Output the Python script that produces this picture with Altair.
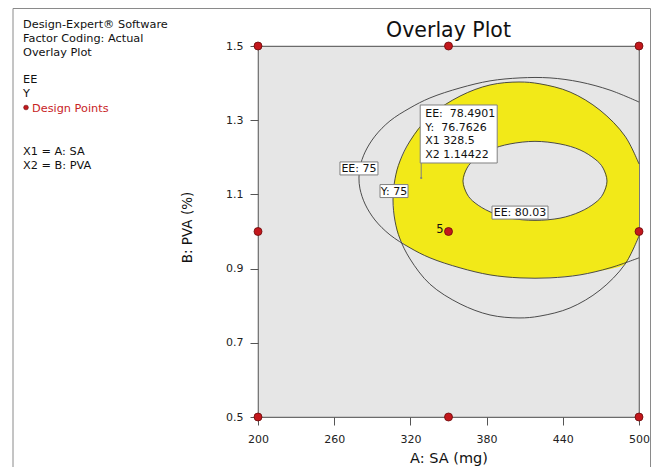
import altair as alt
import pandas as pd

F = "DejaVu Sans"

# ---------------- data ----------------
sa_ticks = [200, 260, 320, 380, 440, 500]
pva_ticks = [0.5, 0.7, 0.9, 1.1, 1.3, 1.5]

design_sa = [200, 200, 200, 350, 350, 350, 500, 500, 500]
design_pva = [0.5, 1.0, 1.5, 0.5, 1.0, 1.5, 0.5, 1.0, 1.5]
center_runs = "5"

# contour EE = 75 (open, leaves the plot at SA = 500)
ee75_sa = [500, 477.2, 453.5, 429.9, 406.3, 382.7, 359.1, 335.4, 319.7, 303.9, 292.1, 284.3, 280.3, 279.5,
           280.3, 284.3, 292.1, 303.9, 319.7, 335.4, 359.1, 382.7, 406.3, 429.9, 453.5, 477.2, 500]
ee75_pva = [1.349, 1.381, 1.403, 1.414, 1.414, 1.406, 1.387, 1.360, 1.333, 1.298, 1.257, 1.214, 1.174, 1.144,
            1.115, 1.074, 1.031, 0.991, 0.956, 0.929, 0.902, 0.883, 0.875, 0.875, 0.883, 0.902, 0.929]

# contour Y = 75 (open, leaves the plot at SA = 500)
y75_sa = [500, 489.0, 469.3, 445.7, 422.0, 405.5, 382.7, 359.1, 335.4, 319.7, 311.8, 307.9, 306.3,
          307.9, 311.8, 319.7, 335.4, 359.1, 382.7, 405.5, 422.0, 445.7, 469.3, 489.0, 500]
y75_pva = [1.182, 1.257, 1.327, 1.376, 1.398, 1.403, 1.395, 1.365, 1.311, 1.244, 1.190, 1.142, 1.085,
           1.028, 0.980, 0.926, 0.858, 0.805, 0.775, 0.767, 0.772, 0.794, 0.842, 0.912, 0.988]

# contour EE = 80.03 (closed)
ee80_sa = [361.4, 364.6, 370.9, 382.7, 398.4, 418.1, 437.8, 453.5, 465.4, 471.7, 474.8,
           471.7, 465.4, 453.5, 437.8, 418.1, 398.4, 382.7, 370.9, 364.6]
ee80_pva = [1.136, 1.171, 1.195, 1.220, 1.236, 1.243, 1.236, 1.220, 1.195, 1.171, 1.136,
            1.101, 1.077, 1.053, 1.036, 1.030, 1.036, 1.053, 1.077, 1.101]

# feasible (yellow) region: upper / lower boundary
feas_sa = [306.3, 307.9, 311.8, 313.4, 319.7, 335.4, 359.1, 382.7, 405.5, 422.0, 445.7, 469.3, 489.0, 494.5, 500]
feas_top = [1.085, 1.142, 1.190, 1.201, 1.244, 1.311, 1.365, 1.395, 1.403, 1.398, 1.376, 1.327, 1.257, 1.225, 1.182]
feas_bottom = [1.085, 1.028, 0.980, 0.972, 0.956, 0.929, 0.902, 0.883, 0.875, 0.875, 0.880, 0.894, 0.912, 0.945, 0.988]

# contour labels
label_text = ["EE: 75", "Y: 75", "EE: 80.03"]
label_sa = [279.5, 307.1, 406.3]
label_pva = [1.170, 1.109, 1.051]

# flag (probe) point
probe_sa = 328.5
probe_pva = 1.14422
probe_ee = 78.4901
probe_y = 76.7626

chart_title = "Overlay Plot"
header_lines = ["Design-Expert® Software", "Factor Coding: Actual", "Overlay Plot"]
response_lines = ["EE", "Y"]
legend_label = "Design Points"
factor_lines = ["X1 = A: SA", "X2 = B: PVA"]

# ---------------- styles ----------------
BG = "#e6e6e6"
YELLOW = "#f2e918"
LINE = "#3a3a3a"
RED = "#c3171c"

x_axis = alt.Axis(title="A: SA (mg)", values=sa_ticks, format="d", grid=False, domain=False,
                  tickSize=8, tickColor="#555555", tickWidth=1, labelFont=F, labelFontSize=11,
                  labelColor="#222222", labelPadding=8, labelFlush=False, labelOverlap=False,
                  titleFont=F, titleFontSize=14.5,
                  titleFontWeight="normal", titleColor="#111111", titleY=45.5, titleBaseline="alphabetic")
y_axis = alt.Axis(title="B: PVA (%)", values=pva_ticks, format=".1f", grid=False, domain=False,
                  tickSize=8, tickColor="#555555", tickWidth=1, labelFont=F, labelFontSize=11,
                  labelColor="#222222", labelPadding=7, labelFlush=False, labelOverlap=False,
                  titleFont=F, titleFontSize=13.5,
                  titleFontWeight="normal", titleColor="#111111", titleX=-71, titleY=181,
                  titleAngle=270, titleAlign="center", titleBaseline="middle")
xs = alt.Scale(domain=[200, 500], nice=False, zero=False)
ys = alt.Scale(domain=[0.5, 1.5], nice=False, zero=False)


def X(f):
    return alt.X(f, type="quantitative", scale=xs, axis=x_axis)


def Y(f):
    return alt.Y(f, type="quantitative", scale=ys, axis=y_axis)


layers = []

# yellow region
feas = pd.DataFrame({"sa": feas_sa, "top": feas_top, "bottom": feas_bottom})
layers.append(alt.Chart(feas).mark_area(color=YELLOW, opacity=1, interpolate="monotone")
              .encode(x=X("sa"), y=Y("top"), y2=alt.Y2("bottom")))

# hole (EE above 80.03)
hole = pd.DataFrame({
    "sa": ee80_sa[:11],
    "top": ee80_pva[:11],
    "bottom": [ee80_pva[0]] + ee80_pva[11:][::-1] + [ee80_pva[10]],
})
layers.append(alt.Chart(hole).mark_area(color=BG, opacity=1, interpolate="monotone")
              .encode(x=X("sa"), y=Y("top"), y2=alt.Y2("bottom")))

# contour lines
for sa_v, pva_v, interp in [(ee75_sa, ee75_pva, "catmull-rom"),
                            (y75_sa, y75_pva, "catmull-rom"),
                            (ee80_sa, ee80_pva, "cardinal-closed")]:
    d = pd.DataFrame({"sa": sa_v, "pva": pva_v, "i": list(range(len(sa_v)))})
    layers.append(alt.Chart(d).mark_line(color=LINE, strokeWidth=0.9, interpolate=interp)
                  .encode(x=X("sa"), y=Y("pva"), order="i:Q"))

# contour labels with boxes
box_w = [38, 28, 56]
for t, s, p, w in zip(label_text, label_sa, label_pva, box_w):
    d = pd.DataFrame({"sa": [s], "pva": [p], "t": [t]})
    base = alt.Chart(d)
    layers.append(base.mark_rect(fill="white", stroke="#808080", strokeWidth=1,
                                 xOffset=-w / 2, x2Offset=w / 2, yOffset=-6.5, y2Offset=6.5)
                  .encode(x=X("sa"), x2=alt.X2("sa"), y=Y("pva"), y2=alt.Y2("pva")))
    layers.append(base.mark_text(font=F, fontSize=11, color="#111111", baseline="middle", dy=0.5)
                  .encode(x=X("sa"), y=Y("pva"), text="t:N"))

# probe flag
probe_txt = f"EE:\u00a0 {probe_ee}\nY:\u00a0 {probe_y}\nX1 {probe_sa}\nX2 {probe_pva}"
pd_probe = pd.DataFrame({"sa": [probe_sa], "pva": [probe_pva], "t": [probe_txt]})
pb = alt.Chart(pd_probe)
layers.append(pb.mark_rule(color="#808080", strokeWidth=1, y2Offset=-15)
              .encode(x=X("sa"), y=Y("pva"), y2=alt.Y2("pva")))
layers.append(pb.mark_rect(fill="white", stroke="#808080", strokeWidth=1,
                           xOffset=-1, x2Offset=76, yOffset=-73, y2Offset=-15)
              .encode(x=X("sa"), x2=alt.X2("sa"), y=Y("pva"), y2=alt.Y2("pva")))
layers.append(pb.mark_circle(color="#808080", size=5, opacity=1).encode(x=X("sa"), y=Y("pva")))
layers.append(pb.mark_text(font=F, fontSize=11, color="#111111", align="left", baseline="top",
                           lineBreak="\n", lineHeight=13.7, dx=4, dy=-70)
              .encode(x=X("sa"), y=Y("pva"), text="t:N"))

# design points
dp = pd.DataFrame({"sa": design_sa, "pva": design_pva})
layers.append(alt.Chart(dp).mark_circle(size=64, color=RED, stroke="#6a0a0a", strokeWidth=0.8, opacity=1)
              .encode(x=X("sa"), y=Y("pva")))
cr = pd.DataFrame({"sa": [350], "pva": [1.0], "t": [center_runs]})
layers.append(alt.Chart(cr).mark_text(font=F, fontSize=11.5, color="#111111", align="right",
                                      baseline="middle", dx=-5, dy=-2)
              .encode(x=X("sa"), y=Y("pva"), text="t:N"))


def note(s, x, y, color="#111111", size=11.3, align="left"):
    d = pd.DataFrame({"t": [s]})
    return alt.Chart(d).mark_text(font=F, fontSize=size, color=color, align=align,
                                  baseline="alphabetic").encode(
        x=alt.value(x), y=alt.value(y), text="t:N")


# chart title over the plot
layers.append(note(chart_title, 190.5, -9, size=20.5, align="center"))

for s, yy in zip(header_lines, [-18.5, -4.5, 9.5]):
    layers.append(note(s, -235, yy))
for s, yy in zip(response_lines, [37, 51]):
    layers.append(note(s, -235, yy))
layers.append(alt.Chart(pd.DataFrame({"t": [legend_label]})).mark_circle(
    size=22, color=RED, stroke="#6a0a0a", strokeWidth=0.6, opacity=1).encode(
    x=alt.value(-232), y=alt.value(61.5)))
layers.append(note(legend_label, -226, 65.5, color="#c8231f"))
for s, yy in zip(factor_lines, [108.5, 122.5]):
    layers.append(note(s, -235, yy))

# outer window frame
layers.append(alt.Chart(pd.DataFrame({"t": ["frame"]})).mark_rect(
    fill="white", fillOpacity=0, stroke="#8a8a8a", strokeWidth=1).encode(
    x=alt.value(-245), x2=alt.value(392.5), y=alt.value(-37.5), y2=alt.value(440)))

chart = alt.layer(*layers).properties(
    width=381, height=371,
    padding={"left": 250, "top": 38, "right": 12, "bottom": 50},
    autosize=alt.AutoSizeParams(type="none"),
    background="white",
).configure_view(fill=BG, stroke="#6b6b6b", strokeWidth=1.2)

chart.save("out.html", embed_options={"renderer": "svg", "actions": False})
